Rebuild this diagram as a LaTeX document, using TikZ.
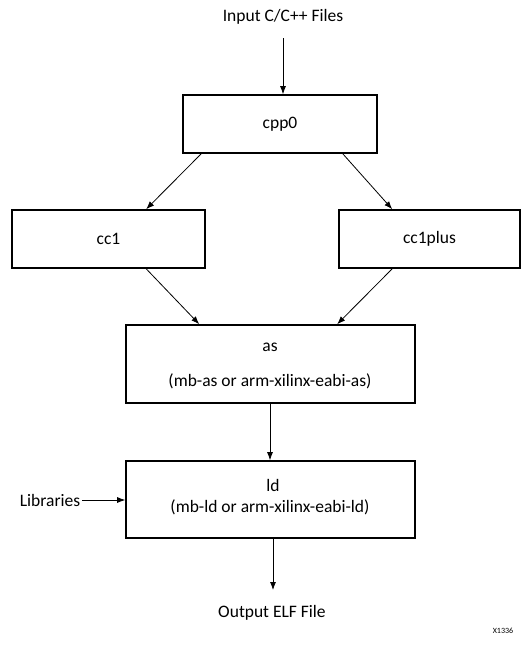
\documentclass[tikz,border=0pt]{standalone}
\usepackage{fontspec}
\setmainfont{Carlito}
\usetikzlibrary{arrows.meta,calc}
\begin{document}
\begin{tikzpicture}[x=1pt,y=-1pt,
  box/.style={draw,line width=1.6pt,inner sep=0pt,font=\fontsize{17.5}{21}\selectfont},
  lbl/.style={inner sep=2pt,font=\fontsize{17.5}{21}\selectfont},
  arr/.style={line width=0.8pt,-{Latex[length=8pt,width=6pt]}}]
\useasboundingbox (0,0) rectangle (521,645);
\node[lbl] (in) at (283,17) {Input C/C++ Files};
\node[box,minimum width=194pt,minimum height=58pt] (cpp0) at (280,124) {cpp0};
\node[box,minimum width=193pt,minimum height=58pt] (cc1) at (108.5,239) {cc1};
\node[box,minimum width=181pt,minimum height=58pt] (cc1plus) at (429.5,239) {cc1plus};
\node[box,minimum width=289pt,minimum height=78pt] (as) at (270.5,364) {};
\node[lbl] (astop) at (270,347) {as};
\node[lbl] (asbot) at (270,381) {(mb-as or arm-xilinx-eabi-as)};
\node[box,minimum width=289pt,minimum height=77pt] (ld) at (270.5,499.5) {};
\node[lbl] (ldtop) at (273,485) {ld};
\node[lbl] (ldbot) at (270,507) {(mb-ld or arm-xilinx-eabi-ld)};
\node[lbl] (libs) at (50,500) {Libraries};
\node[lbl] (out) at (272,613) {Output ELF File};
\node[inner sep=0pt,font=\fontsize{8}{10}\selectfont] (xid) at (503,631) {X1336};
\coordinate (inarr) at (283,38);
\coordinate (outend) at (273,590);
\draw[arr] (inarr) -- (inarr |- cpp0.north);
\draw[arr] ([xshift=19pt]cpp0.south west) -- ([xshift=135pt]cc1.north west);
\draw[arr] ([xshift=-35pt]cpp0.south east) -- ([xshift=54pt]cc1plus.north west);
\draw[arr] ([xshift=135pt]cc1.south west) -- ([xshift=74pt]as.north west);
\draw[arr] ([xshift=54pt]cc1plus.south west) -- ([xshift=212pt]as.north west);
\draw[arr] (as.south -| 270,0) -- (ld.north -| 270,0);
\draw[arr] (ld.south -| outend) -- (outend);
\draw[arr] (libs.east) -- (libs.east -| ld.west);
\end{tikzpicture}
\end{document}
